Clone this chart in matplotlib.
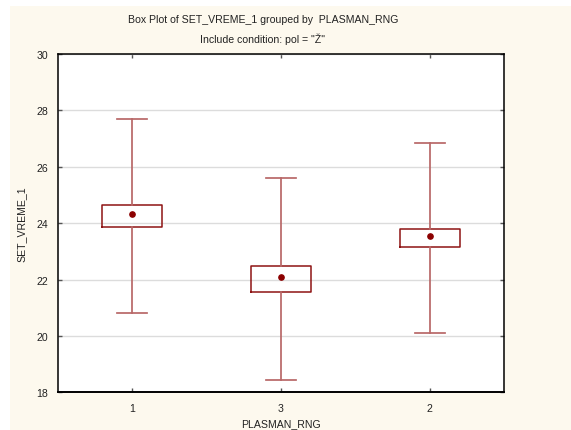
import matplotlib.pyplot as plt
from matplotlib.patches import Rectangle

# Group statistics of SET_VREME_1 by PLASMAN_RNG (pol = "Ž")
groups = ['1', '3', '2']
means = [24.33, 22.08, 23.56]
box_low = [23.87, 21.56, 23.15]
box_high = [24.65, 22.47, 23.81]
whisker_low = [20.83, 18.45, 20.11]
whisker_high = [27.70, 25.59, 26.86]

plt.rcParams['font.family'] = ['Liberation Sans', 'DejaVu Sans']
plt.rcParams['font.size'] = 7.6

fig = plt.figure(figsize=(5.71, 4.31), dpi=100)
fig.patch.set_facecolor('white')
# cream panel behind the plot
fig.patches.append(Rectangle((10 / 571, 0), 1, 1 - 7 / 431, transform=fig.transFigure,
                             facecolor='#fdf9ee', edgecolor='none', zorder=-10))

ax = fig.add_axes([57.7 / 571, 1 - 393.3 / 431, (504.3 - 57.7) / 571, (393.3 - 55) / 431])
ax.set_facecolor('white')

stats = []
for g, m, lo, hi, wl, wh in zip(groups, means, box_low, box_high, whisker_low, whisker_high):
    stats.append({'label': g, 'mean': m, 'med': m, 'q1': lo, 'q3': hi,
                  'whislo': wl, 'whishi': wh, 'fliers': []})

box_col = '#8e1414'
whisk_col = '#b86868'
ax.bxp(stats, positions=[1, 2, 3], widths=0.4, capwidths=0.2, showmeans=True,
       showfliers=False,
       boxprops=dict(color=box_col, linewidth=1.1),
       whiskerprops=dict(color=whisk_col, linewidth=1.25),
       capprops=dict(color=whisk_col, linewidth=1.25),
       medianprops=dict(linewidth=0),
       meanprops=dict(marker='o', markersize=3.8, markerfacecolor='#8b0000',
                      markeredgecolor='#8b0000'))

ax.set_xlim(0.5, 3.5)
ax.set_ylim(18, 30)
ax.set_yticks([18, 20, 22, 24, 26, 28, 30])
ax.set_xticks([1, 2, 3])
ax.set_xticklabels(groups)
ax.grid(axis='y', color='#dcdcdc', linewidth=1)
ax.set_axisbelow(True)

for sp in ax.spines.values():
    sp.set_color('black')
    sp.set_linewidth(1.1)
ax.spines['bottom'].set_linewidth(1.4)

ax.tick_params(axis='both', direction='in', length=3, width=1, color='#555555',
               labelcolor='#222222', top=True, right=True)
ax.tick_params(axis='y', pad=7)
ax.tick_params(axis='x', pad=8)

fig.text(281 / 571, 1 - 424 / 431, 'PLASMAN_RNG', ha='center', va='center', color='#222222')
fig.text(22 / 571, 1 - 224 / 431, 'SET_VREME_1', ha='center', va='center',
         rotation=90, color='#222222')

fig.text(263 / 571, 1 - 20 / 431, 'Box Plot of SET_VREME_1 grouped by  PLASMAN_RNG',
         ha='center', va='center', color='#222222')
fig.text(263 / 571, 1 - 39 / 431, 'Include condition: pol = "Ž"',
         ha='center', va='center', color='#222222')

fig.savefig('out.png', dpi=100)
